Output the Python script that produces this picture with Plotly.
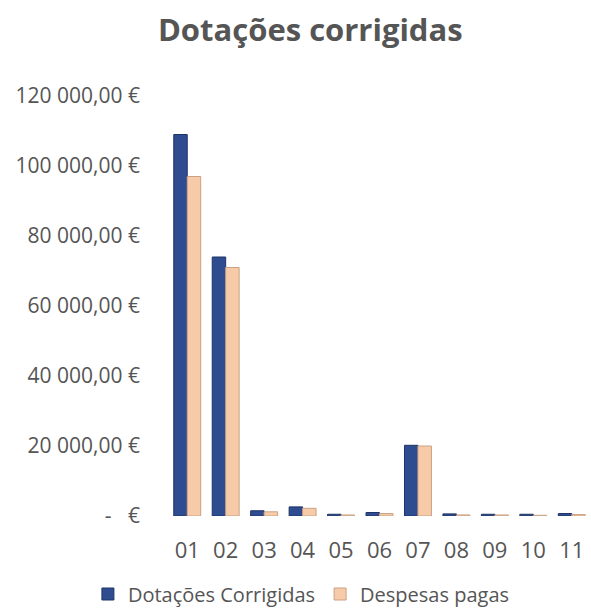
import plotly.graph_objects as go

categories = ["01", "02", "03", "04", "05", "06", "07", "08", "09", "10", "11"]
dotacoes = [109000, 74000, 1500, 2600, 500, 1000, 20200, 600, 500, 500, 700]
despesas = [97000, 71000, 1200, 2200, 300, 700, 20000, 300, 300, 200, 400]
tick_vals = [0, 20000, 40000, 60000, 80000, 100000, 120000]
tick_text = ["-   €", "20 000,00 €", "40 000,00 €", "60 000,00 €", "80 000,00 €", "100 000,00 €", "120 000,00 €"]

font = "'Open Sans', 'Noto Sans', sans-serif"
grey = "#555555"

fig = go.Figure()
fig.add_trace(go.Bar(x=categories, y=dotacoes, name="Dotações Corrigidas",
                     marker=dict(color="#2E4C8F", line=dict(color="#1F3468", width=1))))
fig.add_trace(go.Bar(x=categories, y=despesas, name="Despesas pagas",
                     marker=dict(color="#F8CBA8", line=dict(color="#C9A085", width=1))))

fig.update_layout(
    width=591, height=608,
    paper_bgcolor="white", plot_bgcolor="white",
    barmode="group", bargap=0.3, bargroupgap=0,
    margin=dict(l=168, r=0, t=96, b=92, autoexpand=False),
    title=dict(text="<b>Dotações corrigidas</b>", x=0.525, xanchor="center",
               xref="container", y=1 - 30 / 608, yanchor="middle", yref="container",
               font=dict(family=font, size=31, color=grey)),
    font=dict(family=font, color=grey),
    showlegend=True,
    legend=dict(orientation="h", xref="container", yref="container",
                x=0.51, xanchor="center", y=1 - 594 / 608, yanchor="middle",
                font=dict(size=20, color=grey), itemwidth=30, traceorder="normal"),
    xaxis=dict(showgrid=False, showline=False, ticks="", automargin=False,
               tickfont=dict(size=22, color=grey), ticklabelstandoff=19),
    yaxis=dict(range=[0, 120000], tickvals=tick_vals, ticktext=tick_text, showgrid=False,
               showline=False, zeroline=False, automargin=False,
               tickfont=dict(size=21, color=grey), ticklabelstandoff=27),
)

fig.write_html("out.html", config={"displayModeBar": False},
               post_script="document.body.style.margin='0';")
